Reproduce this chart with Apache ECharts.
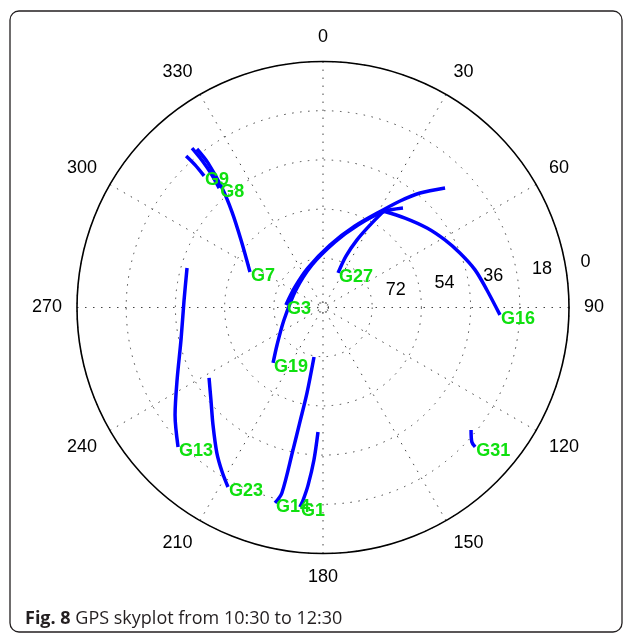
<!DOCTYPE html>
<html>
<head>
<meta charset="utf-8">
<title>GPS skyplot</title>
<script src="https://cdn.jsdelivr.net/npm/echarts@6/dist/echarts.min.js"></script>
<style>
    html, body { margin: 0; padding: 0; background: #fff; }
    #skyplot { width: 630px; height: 634px; }
</style>
</head>
<body>
<div id="skyplot"></div>
<script>
// 卫星轨迹，每个点为 [高度角, 方位角]
var satNames = ['G9', 'G8', 'G7', 'G3', 'G19', 'G27', 'G16', 'G13', 'G23', 'G14', 'G1', 'G31'];
var g9 = [[15.3, 317.9], [19.9, 318.1], [25.1, 317.9]];
var g8 = [[14.5, 320.6], [19.2, 320.6], [25.5, 320.2], [32.1, 319.0]];
var g7 = [[15.9, 321.5], [22.4, 321.5], [32.8, 319.8], [41.7, 316.4], [51.1, 309.5], [60.3, 295.9]];
var g3 = [[27.5, 45.6], [35.1, 40.3], [41.9, 35.9], [48.1, 31.6], [58.0, 21.4], [67.0, 6.4], [74.5, 339.2], [77.3, 306.2], [76.4, 273.9]];
var g19 = [[43.3, 38.8], [48.7, 32.1], [57.2, 23.0], [65.6, 10.4], [73.9, 345.5], [78.2, 302.9], [75.0, 252.2], [68.3, 230.8], [62.7, 222.0]];
var g27 = [[48.7, 32.1], [55.3, 29.7], [62.3, 26.7], [69.4, 24.1], [76.2, 23.5]];
var g16 = [[48.4, 31.9], [45.6, 42.5], [42.1, 52.6], [39.0, 61.0], [36.1, 68.3], [32.7, 76.1], [29.7, 83.9], [25.2, 92.4]];
var g13 = [[38.2, 286.2], [39.1, 273.1], [36.7, 257.1], [30.4, 243.6], [23.1, 234.0], [16.4, 226.1]];
var g23 = [[41.0, 238.3], [36.8, 230.4], [31.1, 223.1], [24.1, 216.1], [19.4, 211.5], [15.7, 207.9]];
var g14 = [[71.6, 190.3], [58.2, 190.6], [47.3, 191.4], [36.7, 191.9], [20.5, 192.5], [16.4, 193.8]];
var g1 = [[44.4, 182.3], [34.1, 183.4], [24.8, 184.8], [19.2, 185.9], [16.5, 186.6]];
var g31 = [[19.7, 129.6], [16.6, 132.1], [14.5, 132.5]];
var tracks = [g9, g8, g7, g3, g19, g27, g16, g13, g23, g14, g1, g31];

// 刻度
var azimuthTicks = [0, 30, 60, 90, 120, 150, 180, 210, 240, 270, 300, 330];
var elevationTicks = [0, 18, 36, 54, 72];
var ringLabelAzimuth = 82;

var fontFamily = '"Liberation Sans", Arial, Helvetica, sans-serif';
var chart = echarts.init(document.getElementById('skyplot'));

var series = [];
for (var i = 0; i < tracks.length; i++) {
    series.push({
        name: satNames[i],
        type: 'line',
        coordinateSystem: 'polar',
        data: tracks[i],
        symbol: 'none',
        smooth: 0.3,
        lineStyle: {
            color: '#0000ff',
            width: 3.5
        },
        silent: true,
        z: 3
    });
}

// 卫星名称，放在轨迹终点
var labelData = [];
for (var j = 0; j < tracks.length; j++) {
    var last = tracks[j][tracks[j].length - 1];
    labelData.push({ value: last, name: satNames[j] });
}
series.push({
    type: 'scatter',
    coordinateSystem: 'polar',
    data: labelData,
    symbolSize: 0,
    silent: true,
    z: 5,
    itemStyle: { opacity: 1 },
    label: {
        show: true,
        position: 'right',
        distance: 1,
        offset: [0, 4],
        formatter: '{b}',
        color: '#0fe00f',
        fontWeight: 'bold',
        fontSize: 18,
        fontFamily: fontFamily
    }
});

// 高度角刻度标签
var ringData = [];
for (var k = 0; k < elevationTicks.length; k++) {
    ringData.push([elevationTicks[k], ringLabelAzimuth]);
}
series.push({
    type: 'scatter',
    coordinateSystem: 'polar',
    data: ringData,
    symbolSize: 0,
    silent: true,
    z: 4,
    itemStyle: { opacity: 1 },
    label: {
        show: true,
        position: 'right',
        distance: 14,
        offset: [0, -11],
        formatter: function (p) { return String(p.value[0]); },
        color: '#000',
        fontSize: 18,
        fontFamily: fontFamily
    }
});

// 中心的小圆圈
series.push({
    type: 'scatter',
    coordinateSystem: 'polar',
    data: [[90, 0]],
    symbol: 'circle',
    symbolSize: 11,
    silent: true,
    z: 2,
    itemStyle: {
        opacity: 1,
        color: 'rgba(0,0,0,0)',
        borderColor: '#444',
        borderWidth: 1,
        borderType: [1.5, 2.5]
    }
});

var option = {
    animation: false,
    backgroundColor: '#fff',
    title: {
        text: '{b|Fig. 8} GPS skyplot from 10:30 to 12:30',
        left: 20,
        top: 605,
        textStyle: {
            fontSize: 18,
            fontWeight: 'normal',
            color: '#231f20',
            fontFamily: '"Open Sans", "Noto Sans", sans-serif',
            rich: {
                b: {
                    fontSize: 18,
                    fontWeight: 'bold',
                    color: '#231f20',
                    fontFamily: '"Open Sans", "Noto Sans", sans-serif'
                }
            }
        }
    },
    graphic: [
        {
            type: 'rect',
            shape: { x: 10, y: 11, width: 612, height: 621, r: 9 },
            style: { fill: 'none', stroke: '#231f20', lineWidth: 1.3 },
            silent: true,
            z: 0
        }
    ],
    polar: {
        center: [323, 307.5],
        radius: 246
    },
    angleAxis: {
        type: 'value',
        min: 0,
        max: 360,
        interval: 30,
        startAngle: 90,
        clockwise: true,
        axisLine: {
            show: true,
            lineStyle: { color: '#000', width: 1.6 }
        },
        axisTick: { show: false },
        axisLabel: {
            show: true,
            margin: 15,
            color: '#000',
            fontSize: 18,
            fontFamily: fontFamily,
            formatter: function (v) {
                return azimuthTicks.indexOf(v) >= 0 ? String(v) : '';
            }
        },
        splitLine: {
            show: true,
            lineStyle: { color: '#444', width: 1, type: [1.5, 6.5] }
        }
    },
    radiusAxis: {
        type: 'value',
        min: 0,
        max: 90,
        interval: 18,
        inverse: true,
        axisLine: { show: false },
        axisTick: { show: false },
        axisLabel: { show: false },
        splitLine: {
            show: true,
            lineStyle: { color: '#444', width: 1, type: [1.5, 6.5] }
        }
    },
    series: series
};

chart.setOption(option);
</script>
</body>
</html>
